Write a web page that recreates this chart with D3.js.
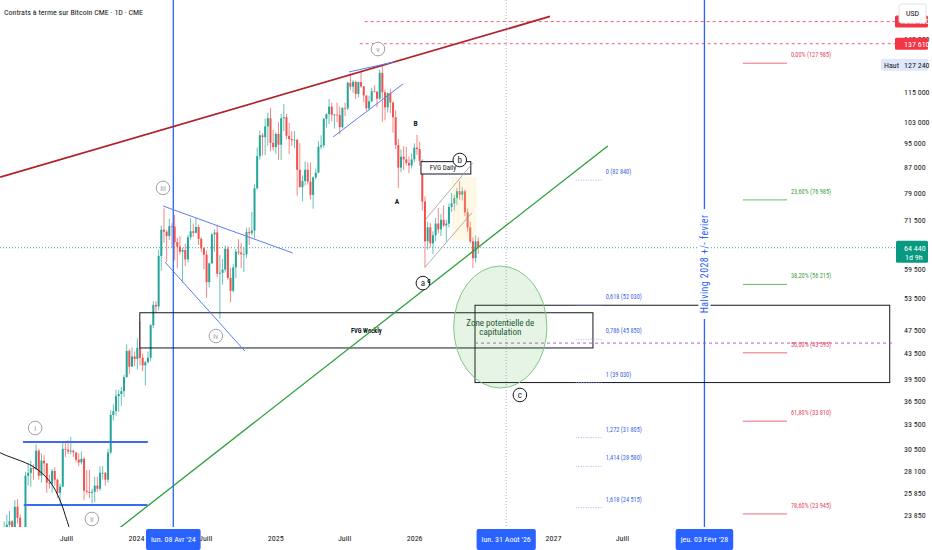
<!DOCTYPE html>
<html>
<head>
<meta charset="utf-8">
<title>Contrats à terme sur Bitcoin CME</title>
<script src="https://cdn.jsdelivr.net/npm/d3@7"></script>
<style>
  html, body { margin: 0; padding: 0; background: #ffffff; }
  #chart_div { width: 932px; height: 550px; }
  #chart_err { position: absolute; top: 20px; left: 10px; color: #c00; font: 12px sans-serif; }
  svg text { font-family: "Liberation Sans Narrow", "Roboto Condensed", "Liberation Sans", sans-serif; }
</style>
</head>
<body>
<div id="chart_div"></div>
<div id="chart_err"></div>
<script>
// ---- Weekly candles (prices in thousands USD) ----
var firstWeek = "2023-01-09";   // monday of the first candle
var firstOpen = 17.2;
var highs = [
  21.4, 23.3, 23.9, 24.2, 23.4, 25.2, 25.3, 23.9, 22.6, 28.0,
  28.9, 29.2, 28.8, 31.0, 30.5, 30.0, 29.8, 28.9, 27.7, 28.3,
  28.5, 27.3, 26.8, 31.4, 31.4, 31.5, 31.9, 30.4, 29.8, 30.0,
  30.2, 29.6, 28.2, 28.2, 26.3, 27.5, 27.5, 28.6, 28.6, 28.0,
  30.5, 35.2, 36.0, 38.0, 38.0, 38.4, 40.2, 45.0, 44.2, 44.5,
  43.8, 46.0, 49.0, 43.5, 42.3, 43.8, 48.5, 52.8, 52.8, 64.0,
  70.0, 74.6, 68.8, 71.8, 70.6, 72.8, 66.8, 67.2, 64.4, 65.4,
  67.6, 71.9, 70.5, 72.0, 70.2, 67.0, 64.5, 63.8, 61.0, 68.0,
  69.0, 70.2, 62.7, 61.8, 65.0, 64.9, 59.8, 60.6, 64.1, 66.5,
  65.6, 64.5, 69.4, 69.5, 73.6, 81.5, 93.5, 99.6, 98.7, 104.1,
  106.5, 108.4, 99.9, 99.0, 102.7, 106.0, 110.0, 106.0, 102.5, 99.4,
  99.5, 96.5, 95.0, 84.3, 88.8, 88.5, 88.5, 84.0, 86.4, 95.8,
  97.9, 104.3, 106.2, 112.0, 110.5, 106.0, 110.5, 108.9, 108.5, 110.5,
  119.5, 123.2, 120.2, 120.0, 119.6, 124.5, 117.6, 113.5, 113.4, 116.8,
  117.9, 113.4, 125.0, 127.24, 116.0, 114.8, 116.4, 110.9, 107.5, 96.6,
  92.9, 94.0, 93.7, 90.5, 91.5, 95.0, 98.0, 95.5, 89.5, 78.0,
  71.0, 70.7, 68.5, 72.0, 74.7, 73.0, 75.5, 71.5, 76.0, 79.0,
  78.5, 80.5, 82.5, 80.7, 80.0, 74.5, 71.0, 67.0, 67.4, 67.0
];
var lows = [
  17.3, 20.5, 22.3, 22.6, 21.4, 21.4, 23.1, 21.9, 19.6, 20.1,
  26.6, 26.5, 27.2, 28.2, 27.2, 26.9, 27.7, 25.9, 26.3, 25.9,
  26.6, 25.4, 24.8, 26.5, 29.6, 29.9, 29.9, 29.6, 29.0, 28.6,
  28.8, 25.2, 25.8, 25.4, 24.9, 25.0, 26.0, 26.1, 27.2, 26.6,
  26.9, 29.9, 33.9, 34.5, 35.0, 35.8, 37.0, 39.9, 40.3, 41.5,
  41.5, 41.0, 41.6, 40.7, 38.6, 41.9, 42.3, 47.8, 50.6, 51.0,
  59.2, 65.7, 61.1, 66.3, 64.5, 61.5, 59.7, 62.9, 56.6, 60.2,
  61.0, 66.4, 67.1, 68.0, 65.1, 63.4, 59.5, 53.5, 55.6, 60.7,
  63.5, 57.7, 49.5, 56.2, 58.8, 57.2, 52.6, 54.6, 57.6, 62.7,
  59.8, 58.9, 62.0, 65.1, 67.5, 66.8, 80.0, 89.4, 90.8, 91.0,
  94.2, 92.3, 92.5, 91.4, 89.3, 89.3, 99.5, 96.4, 91.3, 94.1,
  93.4, 78.2, 81.5, 76.6, 81.2, 81.6, 77.1, 74.5, 83.1, 85.1,
  92.9, 93.4, 100.7, 102.1, 103.1, 100.4, 102.7, 98.2, 100.5, 105.1,
  107.5, 115.8, 114.7, 112.0, 112.7, 116.8, 110.7, 107.3, 107.3, 110.6,
  114.8, 108.6, 111.7, 103.0, 103.5, 106.6, 106.3, 98.9, 93.0, 80.5,
  85.3, 86.0, 87.5, 85.0, 86.5, 88.5, 91.0, 87.5, 74.0, 59.8,
  64.0, 64.5, 63.0, 66.0, 68.0, 67.3, 69.5, 65.9, 69.5, 73.6,
  74.0, 75.5, 77.0, 76.8, 72.5, 68.4, 65.5, 59.8, 61.0, 63.0
];
var closes = [
  21.0, 22.7, 23.0, 23.3, 21.8, 24.6, 23.6, 22.1, 20.6, 27.6,
  27.9, 28.4, 28.3, 30.3, 27.6, 29.2, 28.9, 26.9, 26.8, 28.1,
  27.2, 25.9, 26.5, 30.5, 30.4, 30.2, 30.3, 30.1, 29.3, 29.0,
  29.4, 26.1, 26.0, 25.9, 26.0, 26.6, 26.3, 27.9, 27.9, 27.2,
  30.1, 34.6, 35.1, 37.1, 37.4, 37.8, 39.8, 43.9, 41.4, 43.0,
  42.6, 44.4, 42.8, 41.6, 42.1, 42.8, 48.3, 52.1, 51.8, 62.5,
  68.9, 68.4, 67.3, 69.8, 69.7, 65.8, 64.7, 63.5, 63.9, 61.7,
  67.0, 68.5, 68.1, 69.6, 66.6, 64.3, 62.8, 56.7, 60.8, 67.7,
  68.2, 58.5, 58.7, 59.4, 64.2, 57.6, 54.9, 59.9, 63.5, 63.3,
  62.9, 62.9, 68.3, 68.0, 68.7, 80.4, 90.6, 97.9, 97.2, 101.2,
  104.3, 95.2, 93.7, 98.4, 94.5, 104.3, 104.7, 97.7, 96.5, 96.1,
  96.3, 86.1, 80.7, 82.6, 86.1, 82.4, 78.4, 83.7, 85.2, 93.8,
  94.3, 104.1, 105.9, 108.9, 105.7, 105.7, 105.6, 100.9, 108.4, 108.2,
  119.0, 117.3, 119.4, 114.2, 119.3, 117.4, 113.5, 108.2, 111.1, 115.3,
  115.2, 112.2, 123.5, 114.9, 108.6, 114.5, 110.6, 104.7, 94.4, 86.8,
  90.4, 89.5, 88.3, 87.5, 89.5, 93.5, 93.0, 89.0, 76.5, 66.0,
  69.5, 65.5, 67.5, 70.5, 69.0, 71.5, 70.0, 70.5, 75.0, 76.0,
  77.5, 79.5, 78.5, 79.5, 73.5, 69.5, 66.0, 62.0, 66.0, 64.44
];

// ---- Axis ticks ----
var priceTicks = [140000, 115000, 103000, 95000, 87000, 79000, 71500, 59500,
                  53500, 47500, 43500, 39500, 36500, 33500, 30500, 28100, 25850, 23850];
var timeTicks = ["2023-07-01", "2024-01-01", "2024-07-01", "2025-01-01", "2025-07-01",
                 "2026-01-01", "2026-07-01", "2027-01-01", "2027-07-01"];

// ---- Price labels on the right scale ----
var lastPrice = 64440;
var highPrice = 127240;
var alertPrices = [149400, 137610];
var alertStarts = ["2025-08-24", "2025-08-11"];

// ---- Vertical date markers ----
var markerDates = ["2024-04-08", "2026-08-31", "2028-02-03"];
var markerLabels = ["lun. 08 Avr '24", "lun. 31 Août '26", "jeu. 03 Févr '28"];

// ---- Fibonacci extension (left block) ----
var fibExtLevels = ["0", "0,618", "0,786", "1", "1,272", "1,414", "1,618"];
var fibExtPrices = [82840, 52030, 45850, 39030, 31805, 28580, 24515];
var fibExtSpan = ["2027-03-02", "2027-05-09"];

// ---- Fibonacci retracement (right block) ----
var fibRetLevels = ["0,00%", "23,60%", "38,20%", "50,00%", "61,80%", "78,60%"];
var fibRetPrices = [127985, 76985, 56215, 43595, 33810, 23945];
var fibRetSpan = ["2028-05-14", "2028-09-07"];

// ---- Drawings: [date, price] anchor points ----
var redTrend = [["2023-01-09", 83800], ["2026-12-24", 152300]];
var greenTrend = [["2023-11-12", 22560], ["2027-05-25", 94100]];
var rangeLines = [
  [["2023-03-10", 31290], ["2024-02-01", 31290]],
  [["2023-03-12", 24760], ["2024-01-31", 24760]]
];
var wedgeLines = [
  [["2024-03-12", 75270], ["2025-02-16", 63190]],
  [["2024-03-17", 61110], ["2024-10-13", 43890]],
  [["2025-07-14", 123900], ["2025-11-10", 128600]],
  [["2025-06-02", 97290], ["2025-12-03", 118500]]
];
var channelLines = [
  [["2026-01-30", 59980], ["2026-06-02", 73420]],
  [["2026-02-01", 71710], ["2026-06-04", 88300]]
];
var channelFill = [["2026-04-10", 83800], ["2026-06-14", 66300]];
var arcPoints = [["2022-12-25", 30600], ["2023-01-09", 30070], ["2023-04-06", 28550],
                 ["2023-05-20", 26990], ["2023-06-15", 25220], ["2023-07-03", 23420],
                 ["2023-07-14", 22300]];
var fvgWeekly = [["2024-01-11", 50600], ["2027-04-16", 44390]];
var fvgDaily = [["2026-01-19", 88750], ["2026-05-30", 84770]];
var capZone = [["2026-06-10", 52030], ["2029-06-04", 39030]];
var capCircle = [["2026-04-15", 60200], ["2026-12-16", 38250]];
var midDashed = ["2026-06-10", 45200];
var halvingPrice = 60660;

// ---- Wave labels ----
var waveNames = ["i", "ii", "iii", "iv", "v"];
var wavePoints = [["2023-04-11", 32960], ["2023-09-07", 23500], ["2024-03-12", 80500],
                  ["2024-07-29", 46400], ["2025-09-28", 134900]];
var abcNames = ["a", "b", "c"];
var abcPoints = [["2026-01-24", 56500], ["2026-05-01", 89300], ["2026-10-06", 37270]];
var letterNames = ["A", "B", "c"];
var letterPoints = [["2025-11-17", 76500], ["2026-01-05", 102400], ["2026-02-09", 57150]];


var btc = (function (d3, btc) {
  "use strict";

  btc.cme = (function (d3) {
    var loc_divChart = "chart_div",
        loc_divErr = "chart_err",
        iPlotRight = 895,
        iPlotBottom = 527,
        day = d3.utcParse("%Y-%m-%d"),
        x = null,
        y = null;

    // Private methods
    var private_methods = {
      errMsg: function (sMsg, ex) {
        d3.select("#" + loc_divErr).html("Error in [" + sMsg + "]<br>" + ex.message);
      },
      // [date, price] -> [px, py]
      pt: function (aPair) {
        return [x(day(aPair[0])), y(aPair[1])];
      },
      segment: function (g, aSeg, sColor, fWidth, sDash) {
        var a = private_methods.pt(aSeg[0]),
            b = private_methods.pt(aSeg[1]);
        return g.append("line")
          .attr("x1", a[0]).attr("y1", a[1])
          .attr("x2", b[0]).attr("y2", b[1])
          .attr("stroke", sColor)
          .attr("stroke-width", fWidth)
          .attr("stroke-dasharray", sDash || null);
      },
      box: function (g, aBox, sStroke, sFill) {
        var a = private_methods.pt(aBox[0]),
            b = private_methods.pt(aBox[1]);
        return g.append("rect")
          .attr("x", Math.min(a[0], b[0])).attr("y", Math.min(a[1], b[1]))
          .attr("width", Math.abs(b[0] - a[0])).attr("height", Math.abs(b[1] - a[1]))
          .attr("fill", sFill || "none")
          .attr("stroke", sStroke || "none")
          .attr("stroke-width", 1);
      },
      circleLabel: function (g, aPair, sText, sColor, fSize) {
        var p = private_methods.pt(aPair);
        g.append("circle").attr("cx", p[0]).attr("cy", p[1]).attr("r", 6.8)
          .attr("fill", "#ffffff").attr("stroke", sColor).attr("stroke-width", 1);
        g.append("text").attr("x", p[0]).attr("y", p[1]).attr("dy", "0.33em")
          .attr("text-anchor", "middle").attr("font-size", fSize)
          .attr("fill", sColor).text(sText);
      },
      priceTag: function (g, fPrice, sText, sFill, sColor, iLeft) {
        var py = y(fPrice);
        g.append("rect").attr("x", iLeft).attr("y", py - 6)
          .attr("width", 928 - iLeft).attr("height", 12).attr("rx", 1.5)
          .attr("fill", sFill);
        g.append("text").attr("x", 904).attr("y", py).attr("dy", "0.35em")
          .attr("font-size", 8).attr("fill", sColor).text(sText);
      }
    };

    // Public methods
    return {

      /**
       *  draw
       *      Build the whole chart inside [loc_divChart]
       *
       */
      draw: function () {
        var svg = null,
            gPlot = null,
            gDraw = null,
            gAxis = null,
            fmt = null,
            candles = [],
            dPrev = firstOpen,
            tStart = null,
            i;

        try {
          fmt = d3.formatLocale({ decimal: ",", thousands: " ", grouping: [3], currency: ["", ""] }).format(",d");

          x = d3.scaleUtc()
            .domain([day("2024-01-01"), day("2027-01-01")])
            .range([136, 553]);
          y = d3.scaleLog()
            .domain([22810, 161900])
            .range([iPlotBottom, 0]);

          svg = d3.select("#" + loc_divChart).append("svg")
            .attr("width", 932).attr("height", 550);
          svg.append("rect").attr("width", 932).attr("height", 550).attr("fill", "#ffffff");
          svg.append("defs").append("clipPath").attr("id", "plot_clip")
            .append("rect").attr("width", iPlotRight).attr("height", iPlotBottom);

          gPlot = svg.append("g").attr("clip-path", "url(#plot_clip)");

          // Candles: open is the close of the week before
          tStart = day(firstWeek).getTime();
          for (i = 0; i < closes.length; i++) {
            candles.push({
              t: new Date(tStart + (7 * i + 3.5) * 864e5),
              o: dPrev, h: highs[i], l: lows[i], c: closes[i]
            });
            dPrev = closes[i];
          }

          // Current price line
          gPlot.append("line")
            .attr("x1", 0).attr("x2", iPlotRight)
            .attr("y1", y(lastPrice)).attr("y2", y(lastPrice))
            .attr("stroke", "#089981").attr("stroke-width", 0.8)
            .attr("stroke-dasharray", "1,2");

          gPlot.append("g").selectAll("line")
            .data(candles).enter().append("line")
            .attr("x1", function (d) { return x(d.t); })
            .attr("x2", function (d) { return x(d.t); })
            .attr("y1", function (d) { return y(d.h * 1000); })
            .attr("y2", function (d) { return y(d.l * 1000); })
            .attr("stroke", function (d) { return d.c >= d.o ? "#26a69a" : "#ef5350"; })
            .attr("stroke-width", 0.7);
          gPlot.append("g").selectAll("rect")
            .data(candles).enter().append("rect")
            .attr("x", function (d) { return x(d.t) - 1; })
            .attr("width", 2)
            .attr("y", function (d) { return y(Math.max(d.o, d.c) * 1000); })
            .attr("height", function (d) {
              return Math.max(0.7, y(Math.min(d.o, d.c) * 1000) - y(Math.max(d.o, d.c) * 1000));
            })
            .attr("fill", function (d) { return d.c >= d.o ? "#26a69a" : "#ef5350"; });

          gDraw = gPlot.append("g");

          // Alert lines (dashed red) running to the scale
          alertPrices.forEach(function (fPrice, j) {
            gDraw.append("line")
              .attr("x1", x(day(alertStarts[j]))).attr("x2", iPlotRight)
              .attr("y1", y(fPrice)).attr("y2", y(fPrice))
              .attr("stroke", "#f23645").attr("stroke-width", 0.8)
              .attr("stroke-dasharray", "3,3");
          });

          // Vertical markers
          gDraw.append("line")
            .attr("x1", x(day(markerDates[1]))).attr("x2", x(day(markerDates[1])))
            .attr("y1", 0).attr("y2", iPlotBottom)
            .attr("stroke", "#9aa5d6").attr("stroke-width", 0.9)
            .attr("stroke-dasharray", "1,2");
          [markerDates[0], markerDates[2]].forEach(function (sDate) {
            gDraw.append("line")
              .attr("x1", x(day(sDate))).attr("x2", x(day(sDate)))
              .attr("y1", 0).attr("y2", iPlotBottom)
              .attr("stroke", "#2962ff").attr("stroke-width", 1.3);
          });

          // Boxes
          private_methods.box(gDraw, fvgWeekly, "#131722");
          gDraw.append("text")
            .attr("x", (private_methods.pt(fvgWeekly[0])[0] + private_methods.pt(fvgWeekly[1])[0]) / 2)
            .attr("y", (private_methods.pt(fvgWeekly[0])[1] + private_methods.pt(fvgWeekly[1])[1]) / 2)
            .attr("dy", "0.35em").attr("text-anchor", "middle")
            .attr("font-size", 6.5).attr("font-weight", "bold").attr("fill", "#131722")
            .text("FVG Weekly");

          private_methods.box(gDraw, channelFill, null, "rgba(255, 214, 120, 0.18)");
          private_methods.box(gDraw, fvgDaily, "#131722", "#ffffff");
          gDraw.append("text")
            .attr("x", (private_methods.pt(fvgDaily[0])[0] + private_methods.pt(fvgDaily[1])[0]) / 2 - 3)
            .attr("y", (private_methods.pt(fvgDaily[0])[1] + private_methods.pt(fvgDaily[1])[1]) / 2)
            .attr("dy", "0.35em").attr("text-anchor", "middle")
            .attr("font-size", 7).attr("fill", "#131722")
            .text("FVG Daily");

          private_methods.box(gDraw, capZone, "#131722");

          // Mid dashed level inside the zone
          gDraw.append("line")
            .attr("x1", x(day(midDashed[0]))).attr("x2", iPlotRight)
            .attr("y1", y(midDashed[1])).attr("y2", y(midDashed[1]))
            .attr("stroke", "#b04fb8").attr("stroke-width", 0.9)
            .attr("stroke-dasharray", "3,3");

          // Capitulation circle
          (function () {
            var a = private_methods.pt(capCircle[0]),
                b = private_methods.pt(capCircle[1]),
                cx = (a[0] + b[0]) / 2,
                cy = (a[1] + b[1]) / 2;
            gDraw.append("ellipse")
              .attr("cx", cx).attr("cy", cy)
              .attr("rx", Math.abs(b[0] - a[0]) / 2).attr("ry", Math.abs(b[1] - a[1]) / 2)
              .attr("fill", "rgba(76, 175, 80, 0.14)")
              .attr("stroke", "#81c784").attr("stroke-width", 1);
            gDraw.append("text").attr("x", cx).attr("y", cy - 4.5).attr("dy", "0.35em")
              .attr("text-anchor", "middle").attr("font-size", 9).attr("fill", "#1e5631")
              .text("Zone potentielle de");
            gDraw.append("text").attr("x", cx).attr("y", cy + 5).attr("dy", "0.35em")
              .attr("text-anchor", "middle").attr("font-size", 9).attr("fill", "#1e5631")
              .text("capitulation");
          }());

          // Trend lines
          private_methods.segment(gDraw, redTrend, "#b2222e", 1.8);
          private_methods.segment(gDraw, greenTrend, "#2e9e3a", 1.3);
          rangeLines.forEach(function (aSeg) {
            private_methods.segment(gDraw, aSeg, "#3b6cf0", 2);
          });
          wedgeLines.forEach(function (aSeg) {
            private_methods.segment(gDraw, aSeg, "#5b7df2", 1);
          });
          channelLines.forEach(function (aSeg) {
            private_methods.segment(gDraw, aSeg, "#9a9a9a", 0.8);
          });

          gDraw.append("path")
            .datum(arcPoints.map(private_methods.pt))
            .attr("d", d3.line().curve(d3.curveCatmullRom))
            .attr("fill", "none").attr("stroke", "#131722").attr("stroke-width", 1);

          // Fibonacci extension
          fibExtPrices.forEach(function (fPrice, j) {
            var x1 = x(day(fibExtSpan[0])),
                x2 = x(day(fibExtSpan[1]));
            gDraw.append("line")
              .attr("x1", x1).attr("x2", x2)
              .attr("y1", y(fPrice)).attr("y2", y(fPrice))
              .attr("stroke", "#8c9ef5").attr("stroke-width", 0.8)
              .attr("stroke-dasharray", "1,1.5");
            gDraw.append("text").attr("x", x2 + 4).attr("y", y(fPrice) - 6)
              .attr("font-size", 6.3).attr("fill", "#3d63e6")
              .text(fibExtLevels[j] + " (" + fmt(fPrice) + ")");
          });

          // Fibonacci retracement
          fibRetPrices.forEach(function (fPrice, j) {
            var x1 = x(day(fibRetSpan[0])),
                x2 = x(day(fibRetSpan[1])),
                bGreen = (j === 1 || j === 2),
                sLine = bGreen ? "#66bb6a" : "#ef6a7d",
                sText = bGreen ? "#43a047" : "#e5485f";
            gDraw.append("line")
              .attr("x1", x1).attr("x2", x2)
              .attr("y1", y(fPrice)).attr("y2", y(fPrice))
              .attr("stroke", sLine).attr("stroke-width", 1);
            gDraw.append("text").attr("x", x2 + 4).attr("y", y(fPrice) - 6)
              .attr("font-size", 6.3).attr("fill", sText)
              .text(fibRetLevels[j] + " (" + fmt(fPrice) + ")");
          });

          // Halving note on the blue line
          (function () {
            var hx = x(day(markerDates[2])),
                hy = y(halvingPrice);
            gDraw.append("rect").attr("x", hx - 6).attr("y", hy - 55)
              .attr("width", 12).attr("height", 110).attr("fill", "#ffffff");
            gDraw.append("text")
              .attr("transform", "translate(" + (hx + 3.5) + "," + hy + ") rotate(-90)")
              .attr("text-anchor", "middle")
              .attr("font-family", "Liberation Sans, sans-serif")
              .attr("font-size", 10).attr("letter-spacing", 0.4).attr("fill", "#2962ff")
              .text("Halving 2028 +/- fevier");
          }());

          // Wave labels
          waveNames.forEach(function (sName, j) {
            private_methods.circleLabel(gDraw, wavePoints[j], sName, "#a0a0a0", 8);
          });
          abcNames.forEach(function (sName, j) {
            private_methods.circleLabel(gDraw, abcPoints[j], sName, "#131722", 9);
          });
          letterNames.forEach(function (sName, j) {
            var p = private_methods.pt(letterPoints[j]);
            gDraw.append("text").attr("x", p[0]).attr("y", p[1]).attr("dy", "0.35em")
              .attr("text-anchor", "middle").attr("font-size", 7.5)
              .attr("font-weight", "bold").attr("fill", "#131722").text(sName);
          });

          // Title
          svg.append("text").attr("x", 4).attr("y", 12).attr("dy", "0.35em")
            .attr("font-size", 8).attr("fill", "#131722")
            .text("Contrats à terme sur Bitcoin CME · 1D · CME");

          // Right price scale
          gAxis = svg.append("g")
            .attr("transform", "translate(" + iPlotRight + ",0)")
            .call(d3.axisRight(y).tickValues(priceTicks).tickFormat(fmt).tickSize(0).tickPadding(9));
          gAxis.select(".domain").remove();
          gAxis.selectAll("text").attr("font-size", 8).attr("fill", "#131722")
            .attr("font-family", null);

          // Bottom time scale
          gAxis = svg.append("g")
            .attr("transform", "translate(0," + iPlotBottom + ")")
            .call(d3.axisBottom(x)
              .tickValues(timeTicks.map(day))
              .tickFormat(function (d) { return d.getUTCMonth() === 0 ? String(d.getUTCFullYear()) : "Juill"; })
              .tickSize(0).tickPadding(8));
          gAxis.select(".domain").remove();
          gAxis.selectAll("text").attr("font-size", 8).attr("fill", "#131722")
            .attr("font-family", null);

          // Price tags on the scale
          private_methods.priceTag(svg, alertPrices[0], fmt(alertPrices[0]), "#f23645", "#ffffff", 895);
          private_methods.priceTag(svg, alertPrices[1], fmt(alertPrices[1]), "#f23645", "#ffffff", 895);
          private_methods.priceTag(svg, highPrice, fmt(highPrice), "#dfe8fb", "#131722", 881);
          svg.append("text").attr("x", 884).attr("y", y(highPrice)).attr("dy", "0.35em")
            .attr("font-size", 8).attr("fill", "#131722").text("Haut");

          svg.append("rect").attr("x", 896).attr("y", y(lastPrice) - 7)
            .attr("width", 32).attr("height", 22).attr("rx", 1.5).attr("fill", "#089981");
          svg.append("text").attr("x", 904).attr("y", y(lastPrice)).attr("dy", "0.35em")
            .attr("font-size", 8).attr("fill", "#ffffff").text(fmt(lastPrice));
          svg.append("text").attr("x", 905).attr("y", y(lastPrice) + 9).attr("dy", "0.35em")
            .attr("font-size", 8).attr("fill", "#ffffff").text("1d 9h");

          // Currency box (sits over the top alert tag)
          svg.append("rect").attr("x", 899).attr("y", 4).attr("width", 27).attr("height", 19)
            .attr("rx", 2).attr("fill", "#ffffff").attr("stroke", "#e0e3eb");
          svg.append("text").attr("x", 912.5).attr("y", 13).attr("dy", "0.35em")
            .attr("text-anchor", "middle").attr("font-size", 8).attr("fill", "#131722").text("USD");

          // Date boxes on the time scale
          markerDates.forEach(function (sDate, j) {
            var mx = x(day(sDate)),
                oText = svg.append("text").attr("x", mx).attr("y", 539).attr("dy", "0.35em")
                  .attr("text-anchor", "middle").attr("font-size", 8).attr("fill", "#ffffff")
                  .text(markerLabels[j]),
                fW = oText.node().getComputedTextLength() + 10;
            svg.insert("rect", function () { return oText.node(); })
              .attr("x", mx - fW / 2).attr("y", 529).attr("width", fW).attr("height", 21)
              .attr("rx", 2).attr("fill", "#2962ff");
          });
        } catch (ex) {
          private_methods.errMsg("draw", ex);
        }
      }
    };
  }(d3));

  return btc;
}(d3, window.btc || {}));

btc.cme.draw();
</script>
</body>
</html>
